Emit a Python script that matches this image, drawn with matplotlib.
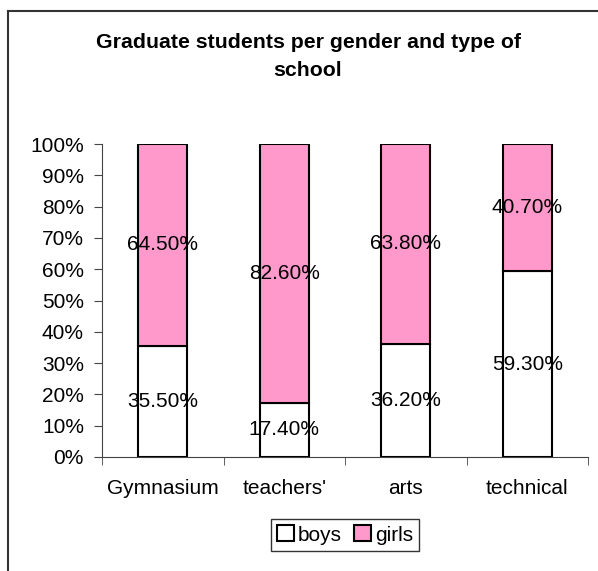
import matplotlib
matplotlib.use("Agg")
import matplotlib.pyplot as plt
from matplotlib.lines import Line2D
import numpy as np

plt.rcParams['font.family'] = ['Liberation Sans', 'DejaVu Sans']

schools = ["Gymnasium", "teachers'", "arts", "technical"]
boys = [35.5, 17.4, 36.2, 59.3]
girls = [64.5, 82.6, 63.8, 40.7]

fs = 15

fig = plt.figure(figsize=(5.98, 5.71), dpi=100)
ax = fig.add_axes([102/598, 1 - 457/571, 486/598, 313/571])

x = np.arange(len(schools))
b1 = ax.bar(x, boys, width=0.4, color='white', edgecolor='black', linewidth=1.5, label='boys')
b2 = ax.bar(x, girls, width=0.4, bottom=boys, color='#ff99cc', edgecolor='black', linewidth=1.5, label='girls')

for i in range(len(schools)):
    ax.text(x[i], boys[i] / 2, "%.2f%%" % boys[i], ha='center', va='center', fontsize=fs)
    ax.text(x[i], boys[i] + girls[i] / 2, "%.2f%%" % girls[i], ha='center', va='center', fontsize=fs)

ax.set_xlim(-0.5, 3.5)
ax.set_ylim(0, 100)
ax.set_yticks(np.arange(0, 101, 10))
ax.set_yticklabels(["%d%%" % v for v in range(0, 101, 10)], fontsize=fs)
ax.set_xticks(x)
ax.set_xticklabels(schools, fontsize=fs)
ax.set_xticks(np.arange(-0.5, 4, 1), minor=True)
ax.tick_params(axis='x', which='major', length=0, pad=16)
ax.tick_params(axis='x', which='minor', length=6, direction='out', color='#444444')
ax.tick_params(axis='y', length=6, direction='out', pad=7, color='#444444')
ax.spines['top'].set_visible(False)
ax.spines['right'].set_visible(False)
ax.spines['left'].set_color('#444444')
ax.spines['bottom'].set_color('#444444')

fig.text(308/598, 1 - 42/571, "Graduate students per gender and type of", ha='center', va='center',
         fontsize=15.3, fontweight='bold')
fig.text(308/598, 1 - 70/571, "school", ha='center', va='center', fontsize=15.3, fontweight='bold')

leg = fig.legend(handles=[b1, b2], loc='center', bbox_to_anchor=(345/598, 1 - 535/571), ncol=2,
                 frameon=True, fancybox=False, fontsize=fs, handlelength=0.8, handleheight=0.8,
                 handletextpad=0.2, columnspacing=0.6, borderpad=0.3, borderaxespad=0)
leg.get_frame().set_edgecolor('black')
leg.get_frame().set_linewidth(1.0)

# chart area frame (right and bottom edges fall outside the image)
fig.add_artist(Line2D([8/598, 8/598], [-0.1, 1 - 11/571], color='#333333', lw=1.5))
fig.add_artist(Line2D([8/598, 1.1], [1 - 11/571, 1 - 11/571], color='#333333', lw=1.5))

fig.savefig("out.png", dpi=100)
